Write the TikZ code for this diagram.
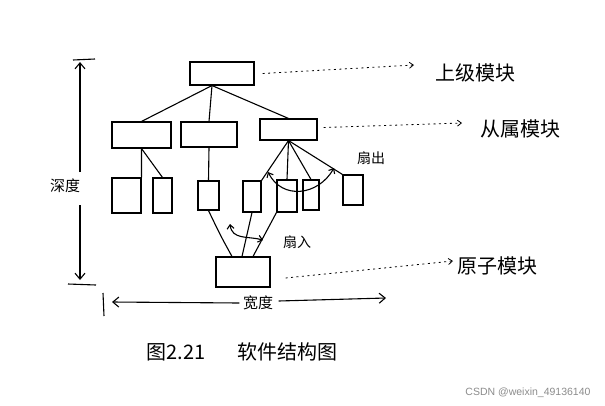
\documentclass[tikz,border=0pt]{standalone}
\usepackage{fontspec}
\newfontfamily\cjk{Noto Sans CJK SC}
\newfontfamily\wmfont{Liberation Sans}
\usetikzlibrary{arrows.meta,calc}
\begin{document}
\begin{tikzpicture}[x=1pt,y=-1pt,line width=1.1pt,
  box/.style 2 args={draw,inner sep=0pt,minimum width=#1,minimum height=#2},
  dotarrow/.style={draw,dash pattern=on 2pt off 3.5pt,line width=0.8pt,-{Straight Barb[length=4pt,width=6pt]}},
  dimarrow/.style={draw,-{Straight Barb[length=6pt,width=10pt]}},
  dbl/.style={draw,{Straight Barb[length=4pt,width=7pt]}-{Straight Barb[length=4pt,width=7pt]}},
  biglabel/.style={font=\cjk\fontsize{20}{24}\selectfont,inner sep=0pt},
  smalllabel/.style={font=\cjk\fontsize{14}{16}\selectfont,inner sep=0pt},
  wm/.style={font=\wmfont\fontsize{10.5}{12}\selectfont,text=black!45,inner sep=0pt}]
\useasboundingbox[fill=white] (0,0) rectangle (605,405);

% boxes
\node[box={64pt}{23pt}] (top) at (222,73.5) {};
\node[box={59pt}{26pt}] (A) at (141.5,135) {};
\node[box={56pt}{25pt}] (B) at (209,134.5) {};
\node[box={57pt}{21pt}] (C) at (288.5,129.5) {};
\node[box={29pt}{35pt}] (b1) at (126.5,195.5) {};
\node[box={19pt}{35pt}] (b2) at (162.5,195.5) {};
\node[box={21pt}{29pt}] (b3) at (208.5,195.5) {};
\node[box={18pt}{31pt}] (b4) at (252,196.5) {};
\node[box={20pt}{32pt}] (b5) at (287,196) {};
\node[box={16pt}{30pt}] (b6) at (311,195) {};
\node[box={20pt}{30pt}] (b7) at (353,190) {};
\node[box={54pt}{30pt}] (bot) at (243,272) {};

% tree connectors
\coordinate (tf) at ($(top.south)+(-10,0)$);
\draw (tf) -- (A.north);
\draw (tf) -- (B.north);
\draw (tf) -- (C.north);
\draw (A.south) -- (b1.north east);
\draw (A.south) -- (b2.north);
\draw (B.south) -- (b3.north);
\draw (C.south) -- (b4.north east);
\draw (C.south) -- (b5.north);
\draw (C.south) -- (b6.north);
\draw (C.south) -- (b7.north west);
\draw (b3.south) .. controls ($(b3.south)+(12,25)$) .. ($(bot.north)+(-11,0)$);
\draw (b4.south) -- ($(bot.north)+(-1,0)$);
\draw (b5.south west) -- ($(bot.north)+(10,0)$);

% fan-out / fan-in arcs
\coordinate (fo1) at (268,172);
\coordinate (fo2) at (334,168);
\draw[dbl] (fo1) .. controls (282,200) and (318,196) .. (fo2);
\node[smalllabel] (fanout) at (371,158) {扇出};
\coordinate (fi1) at (230,224);
\coordinate (fi2) at (263,240);
\draw[dbl] (fi1) .. controls (232,240) and (248,236) .. (fi2);
\node[smalllabel] (fanin) at (297,242) {扇入};

% dotted arrows and labels
\node[biglabel] (L1) at (475,73) {上级模块};
\node[biglabel] (L2) at (520,129) {从属模块};
\node[biglabel] (L3) at (497,266) {原子模块};
\coordinate (e1) at (414,65);
\coordinate (e2) at (462,123);
\coordinate (e3) at (453,261);
\draw[dotarrow] ($(top.east)+(8,0)$) -- (e1);
\draw[dotarrow] ($(C.east)+(6,-2)$) -- (e2);
\draw[dotarrow] ($(bot.east)+(15,6)$) -- (e3);

% depth
\coordinate (dtop) at (80,62);
\coordinate (dbot) at (80,280);
\coordinate (dm1) at (80,172);
\coordinate (dm2) at (80,205);
\draw (73,60) -- (95,59);
\draw (68,284) -- (96,285);
\draw[dimarrow] (dm1) -- (dtop);
\draw[dimarrow] (dm2) -- (dbot);
\node[font=\cjk\fontsize{15}{17}\selectfont,inner sep=0pt] (depth) at (65,186) {深度};

% width
\node[font=\cjk\fontsize{15}{17}\selectfont,inner sep=0pt] (width) at (258,303) {宽度};
\draw (103,293) -- (104,316);
\coordinate (wl) at (112,302);
\coordinate (wr) at (386,298);
\draw[dimarrow] ($(width.west)+(-3,0)$) -- (wl);
\draw[dimarrow] ($(width.east)+(5,-2)$) -- (wr);

% caption
\node[biglabel] (cap1) at (176,352) {图2.21};
\node[biglabel] (cap2) at (287,352) {软件结构图};
\node[wm] (wmark) at (528,393) {CSDN @weixin\_49136140};
\end{tikzpicture}
\end{document}
